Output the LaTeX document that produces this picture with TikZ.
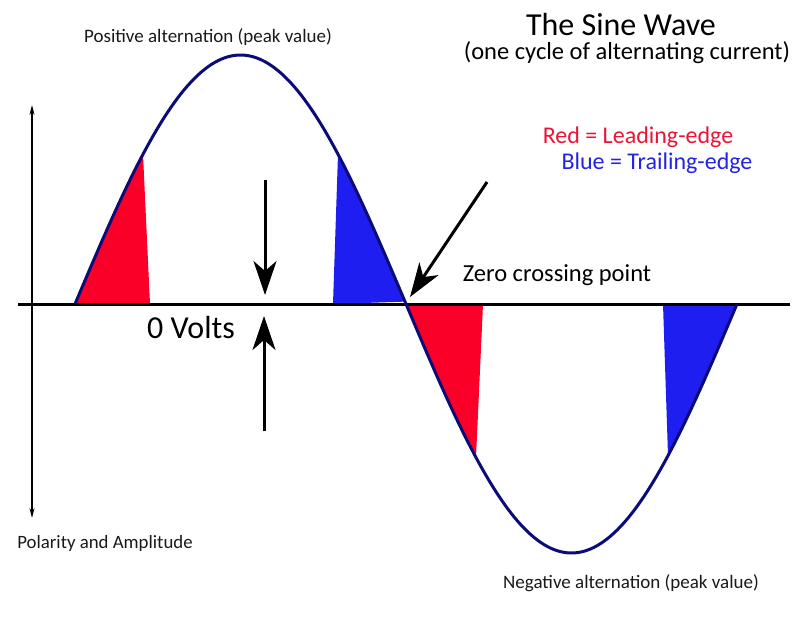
\documentclass[tikz,border=0pt]{standalone}
\usepackage{fontspec}
\setmainfont{Carlito}
\usetikzlibrary{arrows.meta}
\definecolor{wave}{RGB}{12,12,120}
\definecolor{lead}{RGB}{250,0,40}
\definecolor{trail}{RGB}{30,30,240}
\definecolor{leadtext}{RGB}{235,20,55}
\definecolor{trailtext}{RGB}{35,35,225}

\begin{document}
\begin{tikzpicture}[x=1pt,y=1pt,
  bigarrow/.style={line width=3pt,-{Stealth[length=34pt,width=23pt,inset=10pt]}},
  label/.style={font=\fontsize{19}{21}\selectfont,text=black!90},
  declare function={f(\t)=249*sin((\t-75)/331*180);}]
\useasboundingbox (0,-326) rectangle (800,304);
\fill[lead] (75,0) -- plot[domain=75:143,samples=30] (\x,{f(\x)}) -- (150,0) -- cycle;
\fill[trail] (333,0) -- (338,{f(338)}) -- plot[domain=338:405,samples=30] (\x,{f(\x)}) -- cycle;
\fill[lead] (405,0) -- plot[domain=405:476,samples=30] (\x,{f(\x)}) -- (483,0) -- cycle;
\fill[trail] (663,0) -- (668,{f(668)}) -- plot[domain=668:737,samples=30] (\x,{f(\x)}) -- cycle;
\draw[line width=3pt] (18,0) -- (790,0);
\draw[wave,line width=3pt] plot[domain=75:737,samples=200] (\x,{f(\x)});
\coordinate (ytop) at (32,199);
\coordinate (ybot) at (32,-214);
\draw[line width=1.3pt,{Stealth[length=10pt,width=5pt]}-{Stealth[length=10pt,width=5pt]}] (ytop) -- (ybot);
\coordinate (downstart) at (265,124);
\coordinate (downend) at (265,9);
\coordinate (upstart) at (264,-127);
\coordinate (upend) at (264,-12);
\coordinate (crossstart) at (487,122);
\coordinate (crossend) at (410,7);
\draw[bigarrow] (downstart) -- (downend);
\draw[bigarrow] (upstart) -- (upend);
\draw[bigarrow] (crossstart) -- (crossend);
\node[label] (posalt) at (208,267) {Positive alternation (peak value)};
\node[label] (negalt) at (631,-279) {Negative alternation (peak value)};
\node[label,font=\fontsize{18.8}{21}\selectfont] (polarity) at (105,-239) {Polarity and Amplitude};
\node[font=\fontsize{32}{36}\selectfont] (title) at (621,279) {The Sine Wave};
\node[font=\fontsize{24.5}{28}\selectfont] (subtitle) at (627,251) {(one cycle of alternating current)};
\node[font=\fontsize{24}{27}\selectfont,text=leadtext] (redkey) at (638,167) {Red = Leading-edge};
\node[font=\fontsize{24}{27}\selectfont,text=trailtext] (bluekey) at (657,141) {Blue = Trailing-edge};
\node[font=\fontsize{24.5}{28}\selectfont] (zero) at (557,29) {Zero crossing point};
\node[font=\fontsize{32}{36}\selectfont] (volts) at (191,-24) {0 Volts};
\end{tikzpicture}
\end{document}
